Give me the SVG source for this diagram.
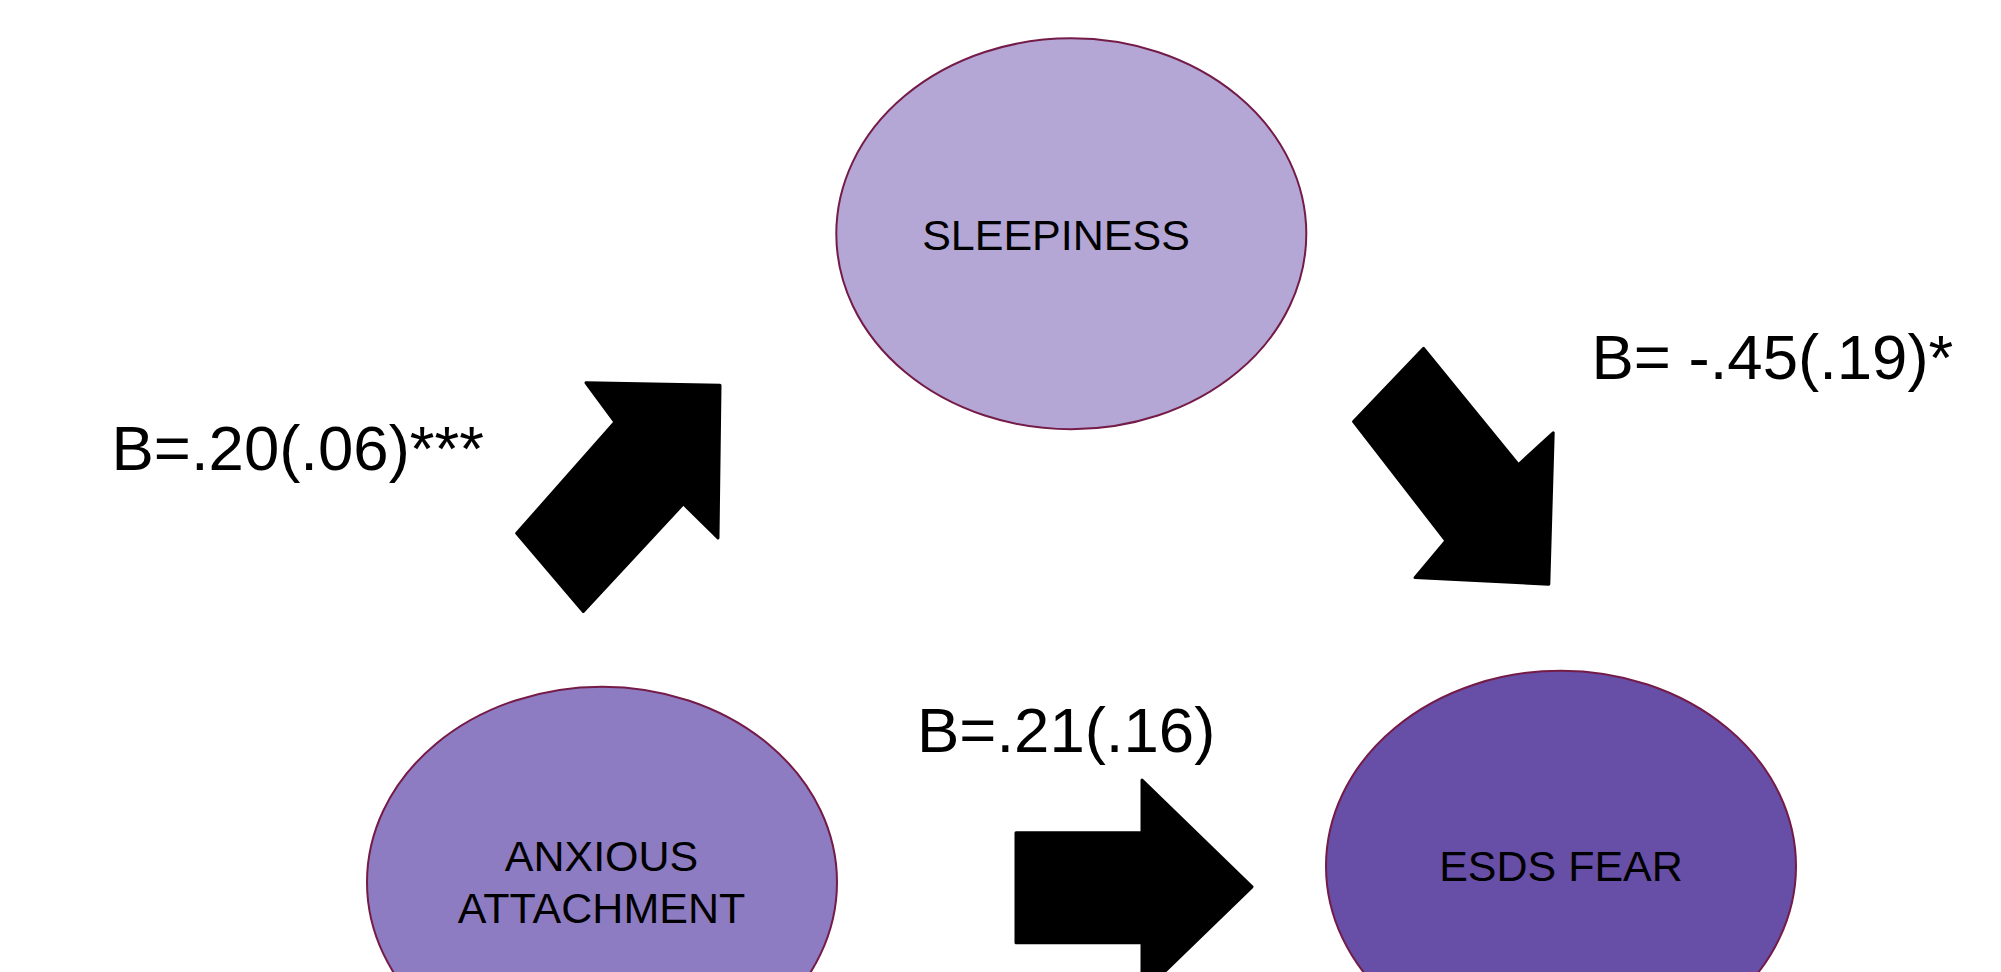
<svg xmlns="http://www.w3.org/2000/svg" width="2001" height="972" viewBox="0 0 2001 972">
<style>
.node{stroke:#741b47;stroke-width:2}
.nt{font-family:"Liberation Sans",Arial,sans-serif;font-size:43px;fill:#000;text-anchor:middle}
.lbl{font-family:"Liberation Sans",Arial,sans-serif;font-size:63.5px;fill:#000}
.arr{fill:#000;stroke:#000;stroke-width:3;stroke-linejoin:round}
</style>
<rect width="2001" height="972" fill="#fff"/>
<g id="connectors">
<polygon class="arr" points="516.7,533.3 583.3,611.5 683.3,503.8 718,538 720,385.2 586,382.8 615,422"/>
<polygon class="arr" points="1423.6,348.4 1518.4,464.8 1553.2,432.8 1548.8,584.2 1415,577.6 1446,540.8 1353.6,421.5"/>
<polygon class="arr" points="1016,832.8 1142,832.8 1142,780 1252,886.8 1142,993.6 1142,942.8 1016,942.8"/>
<text class="lbl" x="111.5" y="469.5">B=.20(.06)***</text>
<text class="lbl" x="1591.5" y="379">B= -.45(.19)*</text>
<text class="lbl" x="917" y="752.3">B=.21(.16)</text>
</g>
<g id="sleepiness">
<ellipse class="node" cx="1071.3" cy="233.8" rx="235" ry="195.5" fill="#b4a7d6"/>
<text class="nt" x="1056" y="250">SLEEPINESS</text>
</g>
<g id="anxious">
<ellipse class="node" cx="602" cy="882.2" rx="235" ry="195.5" fill="#8e7cc3"/>
<text class="nt" x="601.5" y="871">ANXIOUS</text>
<text class="nt" x="601.5" y="922.7">ATTACHMENT</text>
</g>
<g id="esds">
<ellipse class="node" cx="1561" cy="866.2" rx="235" ry="195.5" fill="#674ea7"/>
<text class="nt" x="1561" y="880.7">ESDS FEAR</text>
</g>
</svg>
